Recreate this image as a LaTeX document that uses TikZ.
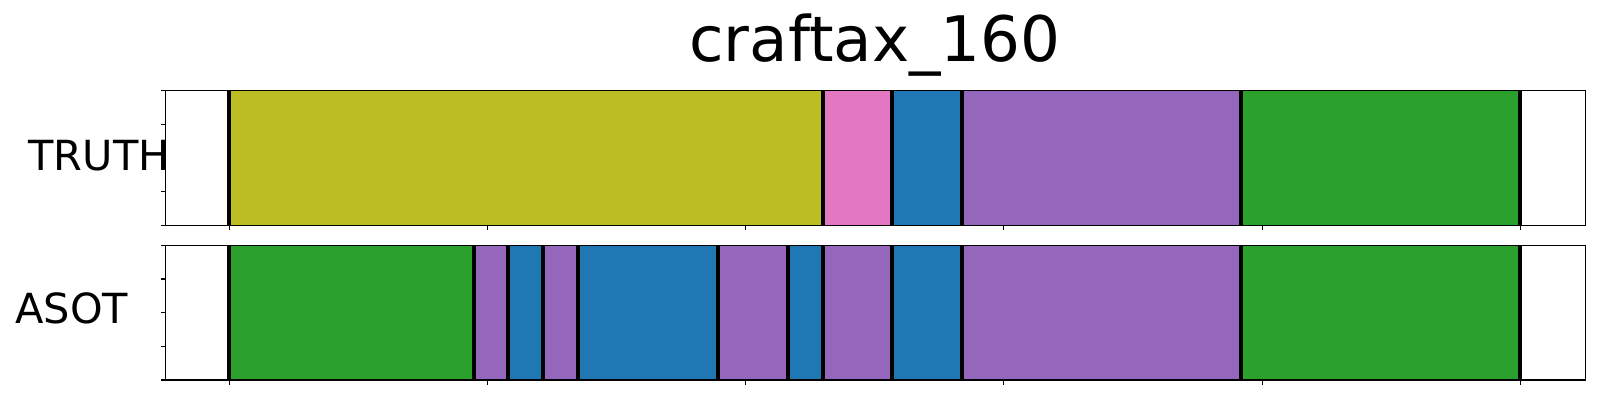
\documentclass[tikz,border=0pt]{standalone}
\usepackage{fontspec}
\setmainfont{DejaVu Sans}
\usetikzlibrary{positioning}
\definecolor{segolive}{HTML}{BCBD22}
\definecolor{segpink}{HTML}{E377C2}
\definecolor{segblue}{HTML}{1F77B4}
\definecolor{segpurple}{HTML}{9467BD}
\definecolor{seggreen}{HTML}{2CA02C}
\tikzset{
  chart/.style={
	x=0.01cm, y=-0.01cm, % one unit is one pixel, y runs downwards
	every node/.style={inner sep=0pt, outer sep=0pt},
  },
  frame/.style={draw=black, line width=0.35pt}, % the box round each row
  cut/.style={draw=black, line width=1.15pt}, % the black line between segments
  tick/.style={draw=black, line width=0.3pt},
  rowlabel/.style={anchor=base, font=\fontsize{11.8}{14}\selectfont},
}

\begin{document}
\begin{tikzpicture}[chart]
\useasboundingbox (0,0) rectangle (1600,400);

\node[anchor=base, font=\fontsize{17.85}{21}\selectfont] (title) at (875,61.7) {craftax\_160};

% TRUTH row
\foreach \a/\b/\c in {229.3/823/segolive, 823/892/segpink, 892/962/segblue,
	962/1240.7/segpurple, 1240.7/1520/seggreen}
	\fill[\c] (\a,90.3) rectangle (\b,225.3);
\foreach \x in {229.3, 823, 892, 962, 1240.7, 1520}
	\draw[cut] (\x,90.3) -- (\x,225.3);
\draw[frame] (165.3,90.3) rectangle (1585.3,225.3);

% ASOT row
\foreach \a/\b/\c in {229.3/473.7/seggreen, 473.7/508/segpurple, 508/543/segblue,
	543/578/segpurple, 578/718/segblue, 718/788/segpurple, 788/823/segblue,
	823/892/segpurple, 892/962/segblue, 962/1240.7/segpurple, 1240.7/1520/seggreen}
	\fill[\c] (\a,245.3) rectangle (\b,380);
\foreach \x in {229.3, 473.7, 508, 543, 578, 718, 788, 823, 892, 962, 1240.7, 1520}
	\draw[cut] (\x,245.3) -- (\x,380);
\draw[frame] (165.3,245.3) rectangle (1585.3,380);

% ticks
\foreach \i in {0,...,5} {
	\draw[tick] ({229.3+258.2*\i},225.3) -- ++(0,4.5);
	\draw[tick] ({229.3+258.2*\i},380) -- ++(0,4.5);
}
\foreach \j in {0,...,4} {
	\draw[tick] (165.3,{90.3+33.75*\j}) -- ++(-4.5,0);
	\draw[tick] (165.3,{245.3+33.675*\j}) -- ++(-4.5,0);
}

\node[rowlabel] (truth) at (99,170) {TRUTH};
\node[rowlabel] (asot) at (71.7,323.3) {ASOT};
\end{tikzpicture}
\end{document}
